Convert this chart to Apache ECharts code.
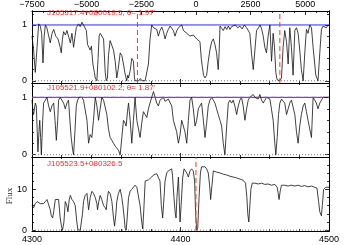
<!DOCTYPE html>
<html><head><meta charset="utf-8">
<script src="https://cdn.jsdelivr.net/npm/echarts@6/dist/echarts.min.js"></script>
<style>html,body{margin:0;padding:0;background:#fff}#c{width:354px;height:245px}</style>
</head><body><div id="c"></div>
<script>
// ---- data ----
const wl1 = [4300.0,4301.1,4302.2,4303.4,4304.5,4305.6,4306.5,4307.4,4308.2,4309.0,4310.0,4311.2,4312.3,4313.5,4314.6,4316.0,4317.5,4319.0,4319.7,4320.5,4321.3,4322.5,4323.5,4324.8,4325.8,4326.9,4328.0,4329.0,4329.8,4331.4,4332.5,4333.6,4334.7,4335.8,4336.6,4337.4,4338.3,4339.2,4340.0,4341.0,4342.0,4342.6,4343.7,4344.5,4345.2,4345.9,4347.0,4348.2,4349.3,4350.0,4350.8,4351.5,4352.6,4353.8,4354.9,4356.0,4357.1,4358.0,4359.4,4360.5,4361.6,4362.7,4363.8,4364.5,4365.0,4366.1,4367.2,4368.3,4369.0,4369.4,4370.6,4372.0,4373.0,4374.0,4375.0,4376.2,4377.3,4378.4,4379.5,4380.6,4381.8,4382.9,4384.0,4385.1,4386.2,4387.4,4388.5,4389.6,4390.7,4391.8,4393.0,4394.1,4395.2,4396.3,4397.5,4398.6,4399.7,4400.8,4402.0,4403.1,4404.2,4405.3,4406.4,4407.5,4408.6,4409.8,4410.9,4412.0,4413.1,4414.0,4414.7,4415.5,4416.5,4417.6,4418.7,4419.8,4421.0,4422.1,4423.2,4424.3,4425.4,4426.0,4426.6,4427.7,4428.8,4430.0,4431.1,4432.2,4433.3,4434.4,4435.5,4437.0,4438.5,4440.0,4441.5,4443.0,4444.5,4445.6,4446.7,4447.8,4449.0,4450.1,4451.2,4452.5,4453.6,4454.6,4455.7,4456.8,4457.9,4459.0,4460.2,4461.3,4462.4,4463.3,4464.2,4465.0,4465.8,4466.9,4468.0,4469.1,4470.2,4471.4,4472.5,4473.6,4474.7,4475.8,4477.0,4478.1,4479.2,4480.3,4481.4,4482.6,4483.7,4484.8,4485.9,4487.0,4488.2,4489.3,4490.4,4491.1,4492.6,4493.8,4494.9,4496.0,4497.1,4498.2,4499.4,4500.0];
const fx1 = [0.80,0.55,0.15,0.60,1.02,0.98,0.85,0.32,0.80,1.00,0.95,0.98,0.68,0.85,0.92,0.80,0.75,0.60,0.50,0.75,0.88,0.82,0.90,0.78,0.68,0.85,0.60,0.80,0.95,1.02,0.97,1.05,1.00,1.02,0.90,0.65,0.60,0.55,0.62,0.30,0.15,0.05,0.00,0.40,0.80,0.85,0.85,0.75,0.15,0.00,0.05,0.45,0.72,0.70,0.55,0.35,0.05,0.20,0.50,0.45,0.30,0.12,0.00,0.10,0.05,0.18,0.40,0.35,0.05,0.00,0.03,0.00,0.04,0.00,0.03,0.00,0.02,0.30,0.75,1.00,0.95,0.98,0.92,0.80,0.90,0.96,0.88,0.75,0.85,0.92,0.98,0.95,0.90,0.80,0.90,0.95,0.97,1.00,0.90,0.88,0.85,0.82,0.80,0.78,0.82,0.80,0.75,0.72,0.70,0.40,0.25,0.10,0.05,0.10,0.35,0.55,0.70,0.75,0.65,0.50,0.20,0.50,0.98,0.95,0.90,0.97,0.92,0.98,0.92,0.97,0.95,1.00,0.95,0.98,0.93,1.00,0.95,0.97,0.85,0.50,0.20,0.55,0.90,0.95,1.00,0.93,0.80,0.60,0.50,0.80,1.00,0.35,0.85,0.60,0.15,0.02,0.00,0.00,0.05,0.60,0.90,0.70,0.30,0.95,0.60,0.10,0.90,0.95,0.85,0.55,0.20,0.00,0.50,0.92,0.85,1.00,0.95,0.60,0.30,0.10,0.00,0.50,0.92,0.98,1.00,0.95,1.00,0.98];

const wl2 = [4300.0,4300.7,4301.1,4302.2,4302.9,4304.0,4304.7,4305.2,4305.8,4306.3,4307.2,4307.8,4309.0,4310.1,4311.2,4312.3,4313.4,4314.6,4315.5,4316.4,4317.3,4317.9,4319.0,4320.2,4321.3,4322.4,4323.5,4324.6,4325.5,4326.4,4327.3,4328.0,4328.9,4329.8,4330.7,4331.6,4332.5,4333.6,4334.7,4335.8,4337.0,4338.1,4339.2,4340.3,4341.4,4342.6,4343.7,4344.8,4345.9,4347.0,4348.2,4349.3,4350.4,4351.5,4352.6,4353.8,4354.9,4356.0,4357.1,4358.2,4359.4,4360.5,4361.6,4362.7,4363.4,4364.3,4365.0,4366.1,4367.2,4368.3,4369.4,4370.6,4371.7,4372.8,4373.9,4375.0,4376.2,4377.3,4378.4,4379.5,4380.6,4381.8,4382.9,4384.0,4385.1,4386.2,4387.4,4388.5,4389.6,4390.7,4391.8,4392.9,4394.1,4395.2,4396.3,4397.4,4398.6,4399.7,4400.8,4401.9,4403.0,4404.2,4405.3,4406.4,4407.5,4408.6,4409.8,4410.9,4412.0,4413.1,4414.2,4415.4,4416.5,4417.6,4418.7,4419.8,4421.0,4422.1,4423.2,4424.3,4425.4,4426.6,4427.7,4428.8,4429.9,4431.1,4432.2,4433.3,4434.4,4435.5,4436.6,4437.8,4438.9,4440.0,4441.1,4442.2,4443.4,4444.5,4445.6,4446.7,4447.8,4449.0,4450.1,4451.2,4452.3,4453.4,4454.6,4455.7,4456.8,4457.9,4459.0,4460.2,4461.3,4462.4,4463.5,4464.2,4465.1,4466.0,4466.9,4468.0,4469.1,4470.2,4471.4,4472.5,4473.6,4474.7,4475.8,4477.0,4478.1,4479.2,4480.3,4481.4,4482.6,4483.7,4484.8,4485.9,4487.0,4488.2,4489.3,4490.4,4491.5,4492.6,4493.8,4494.9,4496.0,4497.1,4498.2,4499.4,4500.0];
const fx2 = [0.95,0.75,0.70,0.90,0.85,0.05,0.40,0.60,0.30,0.00,0.60,0.90,0.95,1.00,0.85,0.75,0.85,0.90,0.60,0.25,0.60,0.95,1.00,1.02,0.90,0.80,0.90,0.95,0.60,0.30,0.10,0.00,0.40,0.85,0.95,1.00,0.98,1.00,0.95,0.97,0.60,0.20,0.35,0.30,0.60,1.00,0.85,0.60,0.80,1.00,0.95,0.98,0.70,0.45,0.30,0.25,0.20,0.15,0.12,0.08,0.00,0.30,0.60,0.55,0.50,0.75,0.90,0.60,0.20,0.60,1.00,0.60,0.45,0.30,0.55,0.75,0.70,0.65,0.80,0.90,1.00,1.10,1.00,0.90,0.85,0.95,0.97,1.00,0.93,0.90,0.97,1.00,0.85,0.60,0.50,0.40,0.20,0.35,0.60,0.50,0.40,0.20,0.60,0.95,1.00,0.80,0.50,0.60,0.80,0.85,0.90,0.60,0.30,0.55,0.85,0.95,1.00,0.95,0.90,0.80,0.70,0.60,0.50,0.20,0.00,0.50,0.90,0.95,0.90,0.95,0.85,0.70,0.85,0.95,1.00,0.85,0.60,0.80,0.95,1.00,0.98,1.05,1.00,1.02,0.97,1.05,0.95,0.90,0.95,1.00,0.98,0.97,0.95,0.60,0.20,0.00,0.30,0.70,0.90,0.97,1.00,0.90,0.70,0.80,0.90,0.95,0.95,0.70,0.40,0.20,0.50,0.70,0.85,0.90,0.75,0.60,0.45,0.30,1.00,0.98,0.90,0.80,0.90,0.95,1.00,0.97,1.00,0.98,1.00];

const wl3 = [4300.0,4301.1,4302.2,4303.4,4304.5,4305.6,4306.7,4307.8,4309.0,4310.1,4311.2,4312.3,4313.0,4313.9,4314.6,4315.7,4316.8,4317.9,4319.0,4319.9,4320.6,4321.5,4322.4,4323.5,4324.2,4325.1,4325.8,4326.9,4328.0,4329.1,4330.2,4330.9,4332.5,4333.2,4334.0,4334.7,4335.8,4337.0,4338.1,4339.2,4340.3,4341.4,4342.6,4343.7,4344.1,4345.0,4345.9,4347.0,4348.2,4349.3,4350.0,4350.8,4351.5,4352.6,4353.8,4354.9,4355.6,4356.5,4357.1,4358.2,4359.4,4360.5,4361.2,4362.1,4362.7,4363.4,4364.1,4365.0,4366.1,4367.2,4368.3,4369.4,4370.6,4371.7,4372.8,4373.9,4374.6,4375.3,4376.2,4377.3,4378.4,4379.5,4380.6,4381.8,4382.9,4384.0,4385.1,4386.2,4387.1,4388.0,4388.9,4389.6,4390.7,4391.8,4392.9,4394.1,4394.7,4395.6,4396.5,4397.0,4397.6,4398.6,4399.2,4399.7,4400.4,4401.5,4402.4,4403.0,4404.2,4405.3,4406.4,4407.5,4408.6,4409.5,4410.2,4410.9,4411.6,4412.5,4413.4,4414.2,4415.4,4416.5,4417.6,4418.7,4419.6,4420.3,4421.2,4422.1,4424.3,4426.6,4428.8,4431.1,4433.3,4435.5,4437.8,4440.0,4442.2,4443.8,4444.7,4445.3,4446.0,4446.7,4447.4,4448.3,4450.1,4452.3,4454.6,4456.8,4459.0,4461.3,4463.5,4465.1,4465.8,4466.4,4467.1,4468.0,4470.2,4472.5,4474.7,4477.0,4479.2,4481.4,4483.7,4485.9,4488.2,4490.4,4491.9,4493.0,4493.8,4494.9,4495.5,4496.4,4497.8,4498.9,4500.0];
const fx3 = [6,5.5,6.5,7,6.8,6.5,6.8,6.5,7,7.5,7.2,5,3.5,3,4.5,7.5,7.8,7.5,3,0.8,0.1,2,7,6,4.5,7.5,8.5,7.5,7,6,2,0.1,0,0.2,4,7,8.5,9,5,8,9.5,9,8,6.5,5,7,8.5,7.5,6,5.5,5,8,9.5,9,7,3,1,4,7,9,10,8,6,3,0.5,0,3,8,9.5,10,10.5,11,10.5,10.5,6,2,0.3,5,12,12,12.3,12.5,13,13.5,13.2,13.8,14,12,6,3,8,12,14,14.5,14.8,15,13,8,4,3,8,13,7,2,6,13,15,15,14,13,14.5,15,14.5,12,4,0,0.5,8,14,15.5,15.3,15.5,15,14,11,7.5,11,14.5,14.2,14,13.7,13.5,13.2,13,12.8,12.5,12.2,11.5,8,4,2,6,10,11.5,11.5,11.3,11.5,11.2,11.3,11.0,11.2,10.5,9,7.5,9.5,11,11,10.8,11,10.8,11,10.7,10.9,10.6,10.8,10.5,10.3,7,4.5,3.5,6,10,10.5,10.2,10.5];

const labels = ["J105517.4+080019.5; \u03b8= 1.97'", "J105521.9+080102.2; \u03b8= 1.87'", "J105523.5+080326.5"];
const panel1Lines = [4371.0, 4466.9];   // red dashed verticals, panel 1
const panel3Lines = [4410.4];           // red dashed vertical, panel 3
const velRange = [-7500, 6090];         // top velocity axis (km/s)
const wlRange = [4300, 4500];
const yRanges = [[-0.04, 1.25], [-0.04, 1.25], [-0.2, 17.9]];
const yMajor = [[0, 1], [0, 1], [0, 10]];
const yMinor = [[0.2, 0.4, 0.6, 0.8, 1.2], [0.2, 0.4, 0.6, 0.8, 1.2], [2, 4, 6, 8, 12, 14, 16]];
const continuum = 1;

// ---- chart ----
const chart = echarts.init(document.getElementById('c'), null, {renderer: 'canvas'});
const F = 'Liberation Sans, Arial, sans-serif';
const grids = [
  {left: 32, right: 25, top: 9, height: 74},
  {left: 32, right: 25, top: 83, height: 74},
  {left: 32, right: 25, top: 157, height: 74}
];
const axisLine = {show: true, onZero: false, lineStyle: {color: '#000', width: 1}};
const tick = {show: true, inside: true, length: 4, lineStyle: {color: '#000', width: 0.8}};
const minor = {show: true, splitNumber: 5, length: 2, lineStyle: {color: '#000', width: 0.8}};
const lbl = {color: '#000', fontSize: 9, fontFamily: F, formatter: v => String(v).replace('-', '\u2212')};

const xAxes = [], yAxes = [];
for (let i = 0; i < 3; i++) {
  xAxes.push({type: 'value', gridIndex: i, position: 'bottom', min: wlRange[0], max: wlRange[1], interval: 100,
    axisLine, axisTick: tick, minorTick: minor, splitLine: {show: false},
    axisLabel: Object.assign({}, lbl, {show: i === 2, margin: 4})});
  if (i === 0) {
    xAxes.push({type: 'value', gridIndex: i, position: 'top', min: velRange[0], max: velRange[1], interval: 2500,
      axisLine, axisTick: tick, minorTick: minor, splitLine: {show: false},
      axisLabel: Object.assign({}, lbl, {show: true, margin: 2, showMaxLabel: false})});
  } else {
    xAxes.push({type: 'value', gridIndex: i, position: 'top', min: wlRange[0], max: wlRange[1], interval: 100,
      axisLine, axisTick: tick, minorTick: minor, splitLine: {show: false}, axisLabel: {show: false}});
  }
}
for (let i = 0; i < 3; i++) {
  const base = {type: 'value', gridIndex: i, min: yRanges[i][0], max: yRanges[i][1], axisLine, splitLine: {show: false}};
  yAxes.push(Object.assign({}, base, {position: 'left',
    axisTick: Object.assign({}, tick, {customValues: yMajor[i]}),
    axisLabel: Object.assign({}, lbl, {margin: 5, customValues: yMajor[i]})}));
  yAxes.push(Object.assign({}, base, {position: 'left',
    axisTick: Object.assign({}, tick, {length: 2, customValues: yMinor[i]}), axisLabel: {show: false}}));
  yAxes.push(Object.assign({}, base, {position: 'right',
    axisTick: Object.assign({}, tick, {customValues: yMajor[i]}), axisLabel: {show: false}}));
  yAxes.push(Object.assign({}, base, {position: 'right',
    axisTick: Object.assign({}, tick, {length: 2, customValues: yMinor[i]}), axisLabel: {show: false}}));
}

function zip(a, b) { return a.map((x, k) => [x, b[k]]); }
const lineSty = {color: '#111', width: 0.8};
function guide(xi, yi, data, color, type, z) {
  return {type: 'line', xAxisIndex: xi, yAxisIndex: yi, data, showSymbol: false, silent: true, z,
    lineStyle: {color, type, width: 1}};
}
const series = [];
// horizontal zero (dotted) lines
[[0, 0], [2, 4], [4, 8]].forEach(([xi, yi]) => series.push(guide(xi, yi, [[wlRange[0], 0], [wlRange[1], 0]], '#777', [1, 2], 1)));
// continuum lines
series.push(guide(0, 0, [[wlRange[0], continuum], [wlRange[1], continuum]], '#2a2aff', 'solid', 2));
series.push(guide(2, 4, [[wlRange[0], continuum], [wlRange[1], continuum]], '#2a2aff', 'solid', 2));
// spectra
series.push({type: 'line', xAxisIndex: 0, yAxisIndex: 0, data: zip(wl1, fx1), showSymbol: false, lineStyle: lineSty, z: 3});
series.push({type: 'line', xAxisIndex: 2, yAxisIndex: 4, data: zip(wl2, fx2), showSymbol: false, lineStyle: lineSty, z: 3});
series.push({type: 'line', xAxisIndex: 4, yAxisIndex: 8, data: zip(wl3, fx3), showSymbol: false, lineStyle: lineSty, z: 3});
// red dashed overlays
series.push(guide(2, 4, [[wlRange[0], continuum], [wlRange[1], continuum]], '#ff3030', [4, 4], 4));
panel1Lines.forEach(x => series.push(guide(0, 0, [[x, yRanges[0][0]], [x, yRanges[0][1]]], '#ff3030', [5, 3], 4)));
panel3Lines.forEach(x => series.push(guide(4, 8, [[x, yRanges[2][0]], [x, yRanges[2][1]]], '#ff3030', [5, 3], 4)));

const labelY = [14, 89, 165];
const graphic = labels.map((t, k) => ({type: 'text', left: 47, top: labelY[k] - 5, z: 10,
  style: {text: t, fill: '#ff2a2a', font: '8px ' + F}}));
graphic.push({type: 'text', x: 10, y: 196, rotation: Math.PI / 2,
  style: {text: 'Flux', fill: '#222', font: '9px "Liberation Serif", serif', textAlign: 'center', textVerticalAlign: 'middle'}});

chart.setOption({
  animation: false,
  grid: grids,
  xAxis: xAxes,
  yAxis: yAxes,
  series,
  graphic
});
</script></body></html>
